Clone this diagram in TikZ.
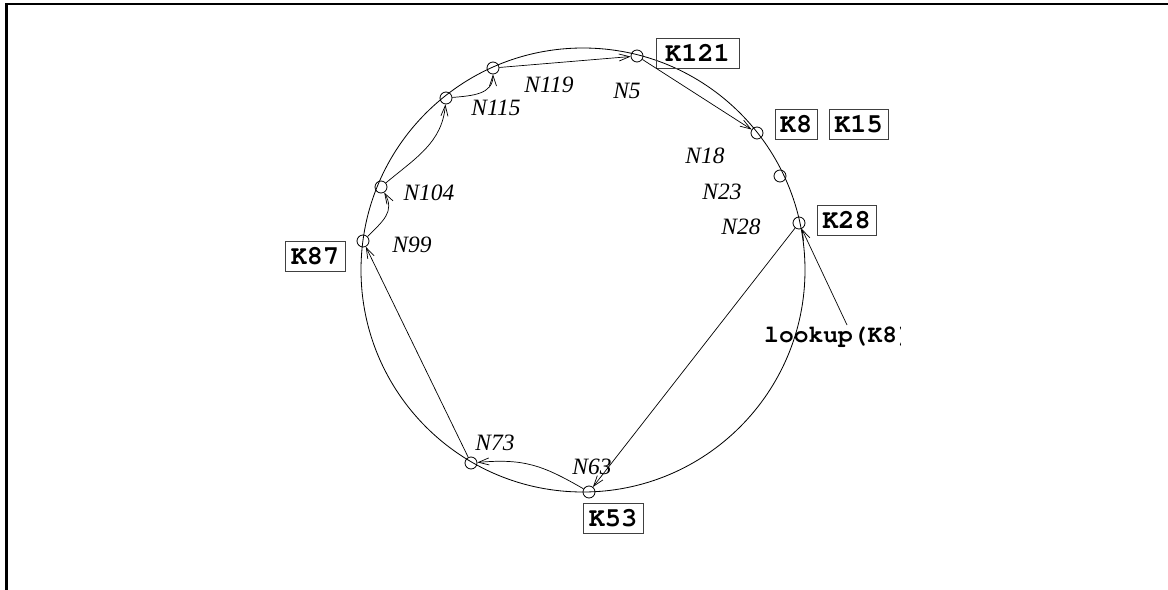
\documentclass[tikz,border=0pt]{standalone}
\usepackage[T1]{fontenc}
\usepackage{fontspec}
\setmainfont{Liberation Serif}
\setmonofont{Liberation Mono}
\usetikzlibrary{arrows.meta}
\newlength\px
\setlength\px{0.03cm}
\newcommand\courb{\fontencoding{T1}\fontfamily{pcr}\fontseries{b}\fontshape{n}\selectfont}
\begin{document}
\begin{tikzpicture}[x=0.03cm,y=-0.03cm,
  ring/.style={line width=0.7pt},
  peer/.style={circle,draw,line width=0.7pt,minimum size=12\px,inner sep=0pt},
  nlabel/.style={inner sep=0pt,font=\fontsize{20}{24}\selectfont\itshape},
  keybox/.style={draw=black!75,line width=0.8pt,inner sep=0pt,minimum height=30\px,
    font=\fontsize{23}{26}\courb},
  hop/.style={line width=0.6pt,-{Straight Barb[length=9pt,width=6pt,line width=0.6pt]}},
  frame/.style={line width=2.2pt}]
\useasboundingbox (0,0) rectangle (1168,590);
\draw[frame] (6.3,590) -- (6.3,4) -- (1168,4);
% ring
\draw[ring] (583,270) circle[radius=222];
% peers
\node[peer] (N5)   at (637,56)  {};
\node[peer] (N119) at (493,68)  {};
\node[peer] (N115) at (446,98)  {};
\node[peer] (N104) at (381,187) {};
\node[peer] (N99)  at (363,241) {};
\node[peer] (N73)  at (471,463) {};
\node[peer] (N63)  at (589,492) {};
\node[peer] (N28)  at (799,223) {};
\node[peer] (N23)  at (780,176) {};
\node[peer] (N18)  at (757,133) {};
% labels
\node[nlabel] (lN5)   at (627,91)  {N5};
\node[nlabel] (lN119) at (549,85)  {N119};
\node[nlabel] (lN115) at (496,108) {N115};
\node[nlabel] (lN104) at (429,193) {N104};
\node[nlabel] (lN99)  at (412,245) {N99};
\node[nlabel] (lN73)  at (495,443) {N73};
\node[nlabel] (lN63)  at (592,467) {N63};
\node[nlabel] (lN28)  at (741,227) {N28};
\node[nlabel] (lN23)  at (722,192) {N23};
\node[nlabel] (lN18)  at (705,156) {N18};
% keys
\node[keybox,minimum width=83\px] (K121) at (697.5,53)  {K121};
\node[keybox,minimum width=42\px] (K8)   at (796,124.5) {K8};
\node[keybox,minimum width=59\px] (K15)  at (858.5,124.5) {K15};
\node[keybox,minimum width=59\px] (K28)  at (846.5,220.5) {K28};
\node[keybox,minimum width=60\px] (K87)  at (315,256)   {K87};
\node[keybox,minimum width=60\px] (K53)  at (613,518.5) {K53};
% lookup
\begin{scope}
\clip (700,300) rectangle (900,360);
\node[inner sep=0pt,anchor=base west,font=\fontsize{21}{24}\courb] (lookup) at (764,342) {lookup(K8)};
\end{scope}
\coordinate (lk) at (847,325);
% hops
\draw[hop] (lk) -- (N28);
\draw[hop] (N28) -- (N63);
\draw[hop] (N63) to[out=150,in=5,looseness=1.1] (N73);
\draw[hop] (N73) -- (N99);
\draw[hop] (N99) to[out=45,in=-60,looseness=1.2] (N104);
\draw[hop] (N104) to[out=40,in=-95,looseness=1] (N115);
\draw[hop] (N115) to[out=5,in=-90,looseness=1.1] (N119);
\draw[hop] (N119) -- (N5);
\draw[hop] (N5) -- (N18);
\end{tikzpicture}
\end{document}
